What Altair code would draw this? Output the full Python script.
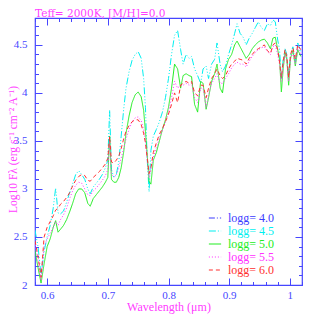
import altair as alt
import pandas as pd

# ---- data ----
wavelength = [0.580, 0.585, 0.590, 0.595, 0.600, 0.605, 0.610, 0.614, 0.618, 0.622,
              0.627, 0.632, 0.637, 0.642, 0.647, 0.652, 0.657, 0.662, 0.667, 0.671,
              0.676, 0.681, 0.686, 0.691, 0.696, 0.700, 0.703, 0.706, 0.710, 0.714,
              0.718, 0.722, 0.726, 0.730, 0.735, 0.740, 0.745, 0.750, 0.755, 0.759,
              0.762, 0.765, 0.768, 0.771, 0.775, 0.780, 0.785, 0.790, 0.795, 0.800,
              0.805, 0.810, 0.815, 0.820, 0.824, 0.829, 0.834, 0.838, 0.843, 0.848,
              0.853, 0.857, 0.862, 0.866, 0.871, 0.876, 0.880, 0.885, 0.889, 0.894,
              0.899, 0.904, 0.909, 0.913, 0.918, 0.923, 0.928, 0.933, 0.938, 0.943,
              0.948, 0.953, 0.958, 0.963, 0.968, 0.972, 0.976, 0.980, 0.983, 0.986,
              0.989, 0.992, 0.995, 0.998, 1.001, 1.005, 1.009, 1.013, 1.018]

flux_45 = [2.57, 2.40, 2.10, 2.35, 2.50, 2.62, 2.80, 3.01, 2.75, 2.74,
           2.77, 2.86, 2.96, 3.05, 3.15, 3.19, 3.15, 3.10, 3.00, 2.95,
           3.02, 3.06, 3.10, 3.15, 3.22, 3.30, 3.82, 3.20, 3.12, 3.15,
           3.28, 3.55, 3.82, 4.05, 4.22, 4.34, 4.40, 4.43, 4.36, 4.15,
           3.85, 3.30, 2.97, 3.40, 3.55, 3.62, 3.70, 3.80, 3.95, 4.15,
           4.40, 4.60, 4.65, 4.45, 4.30, 4.40, 4.36, 4.38, 4.25, 4.18,
           4.10, 4.25, 4.28, 4.15, 4.30, 4.35, 4.52, 4.30, 4.22, 4.28,
           4.40, 4.50, 4.62, 4.72, 4.62, 4.58, 4.50, 4.57, 4.62, 4.68,
           4.74, 4.68, 4.65, 4.72, 4.70, 4.76, 4.74, 4.55, 4.45, 4.15,
           4.35, 4.46, 4.40, 4.18, 4.40, 4.48, 4.32, 4.52, 4.42]

# logg 4.0: listed in the legend, but no visible curve in the reference
flux_40 = []

flux_50 = [2.36, 2.18, 2.02, 2.22, 2.40, 2.48, 2.60, 2.67, 2.55, 2.58,
           2.62, 2.68, 2.76, 2.85, 2.95, 3.00, 3.00, 2.96, 2.85, 2.82,
           2.90, 2.94, 2.98, 3.02, 3.07, 3.12, 3.55, 3.10, 3.07, 3.07,
           3.12, 3.22, 3.38, 3.58, 3.76, 3.90, 3.98, 4.01, 3.96, 3.82,
           3.60, 3.35, 3.08, 3.05, 3.30, 3.38, 3.50, 3.62, 3.72, 3.85,
           4.05, 4.30, 4.25, 4.05, 4.18, 4.20, 4.18, 4.17, 3.88, 3.80,
           4.12, 4.10, 3.83, 3.95, 4.12, 4.20, 4.30, 4.05, 4.00, 4.25,
           4.35, 4.40, 4.50, 4.54, 4.48, 4.42, 4.36, 4.40, 4.46, 4.50,
           4.53, 4.55, 4.56, 4.52, 4.46, 4.57, 4.58, 4.45, 4.35, 4.01,
           4.25, 4.42, 4.35, 4.08, 4.36, 4.44, 4.28, 4.45, 4.38]

flux_55 = [2.45, 2.25, 2.05, 2.40, 2.48, 2.54, 2.60, 2.66, 2.62, 2.68,
           2.73, 2.80, 2.90, 2.98, 3.04, 3.07, 3.06, 3.00, 2.94, 2.93,
           2.98, 3.01, 3.05, 3.09, 3.14, 3.20, 3.50, 3.15, 3.12, 3.15,
           3.22, 3.32, 3.42, 3.52, 3.62, 3.70, 3.74, 3.75, 3.71, 3.62,
           3.50, 3.30, 3.12, 3.20, 3.33, 3.43, 3.53, 3.61, 3.70, 3.80,
           3.95, 4.12, 4.05, 4.08, 4.08, 4.10, 4.08, 4.10, 3.95, 3.90,
           4.05, 4.05, 3.85, 3.98, 4.10, 4.15, 4.20, 4.10, 4.10, 4.15,
           4.20, 4.26, 4.30, 4.32, 4.30, 4.30, 4.27, 4.33, 4.38, 4.42,
           4.45, 4.47, 4.48, 4.43, 4.40, 4.48, 4.50, 4.40, 4.30, 4.12,
           4.28, 4.40, 4.33, 4.12, 4.35, 4.42, 4.30, 4.48, 4.40]

flux_60 = [2.46, 2.30, 2.08, 2.50, 2.60, 2.66, 2.72, 2.78, 2.80, 2.84,
           2.87, 2.91, 2.96, 3.03, 3.09, 3.13, 3.15, 3.14, 3.09, 3.08,
           3.12, 3.15, 3.18, 3.22, 3.26, 3.32, 3.55, 3.28, 3.27, 3.30,
           3.34, 3.42, 3.52, 3.60, 3.66, 3.70, 3.72, 3.72, 3.67, 3.58,
           3.48, 3.32, 3.16, 3.22, 3.38, 3.48, 3.57, 3.63, 3.70, 3.78,
           3.88, 4.00, 3.90, 4.08, 4.10, 4.12, 4.10, 4.12, 4.00, 3.97,
           4.08, 4.08, 3.95, 4.05, 4.15, 4.20, 4.25, 4.18, 4.15, 4.18,
           4.25, 4.30, 4.33, 4.36, 4.35, 4.34, 4.30, 4.36, 4.40, 4.44,
           4.46, 4.48, 4.50, 4.44, 4.41, 4.50, 4.52, 4.45, 4.32, 4.16,
           4.33, 4.45, 4.38, 4.16, 4.40, 4.47, 4.35, 4.50, 4.45]

series_names = ["logg= 4.0", "logg= 4.5", "logg= 5.0", "logg= 5.5", "logg= 6.0"]
series_flux = [flux_40, flux_45, flux_50, flux_55, flux_60]
series_colors = ["#3c3cff", "#00f0f0", "#22ee22", "#ff30ff", "#ff3030"]
series_dash = [[6, 2, 1, 2], [7, 2, 1, 2, 1, 2, 1, 2], [1, 0], [1, 2], [4, 3]]

x_major = [0.6, 0.7, 0.8, 0.9, 1.0]
x_minor = [round(0.58 + 0.02 * i, 2) for i in range(23)]
y_major = [2.0, 2.5, 3.0, 3.5, 4.0, 4.5]
y_minor = [round(2.0 + 0.1 * i, 1) for i in range(28)]

rows = []
for name, flux in zip(series_names, series_flux):
    assert len(flux) in (0, len(wavelength))
    for k, (w, f) in enumerate(zip(wavelength, flux)):
        rows.append({"wl": w, "flux": f, "series": name, "k": k})
df = pd.DataFrame(rows)

AXIS_BLUE = "#4646ff"
MAGENTA = "#ff3cff"
FONT = "Liberation Serif"

xs = alt.Scale(domain=[0.58, 1.02], nice=False, zero=False)
ys = alt.Scale(domain=[2.0, 4.78], nice=False, zero=False)


def tick_axis(orient, values, size, labels=False, **kw):
    return alt.Axis(orient=orient, values=values, labels=labels, grid=False,
                    domain=False, tickColor=AXIS_BLUE, tickWidth=1,
                    tickSize=alt.ExprRef(expr=str(-size)), **kw)


legend = alt.Legend(
    orient="none", legendX=173, legendY=193, title=None,
    symbolType="stroke", symbolSize=150, symbolStrokeWidth=1.2,
    labelFont=FONT, labelFontSize=12, labelOffset=6,
    labelColor=alt.ExprRef(expr="scale('color', datum.value)"),
    rowPadding=0, padding=0,
)

lines = alt.Chart(df).mark_line(strokeWidth=1, clip=True).encode(
    x=alt.X("wl:Q", scale=xs,
            axis=tick_axis("bottom", x_major, 7, labels=True, format="~g",
                           labelPadding=11.5, labelColor=AXIS_BLUE, labelFont=FONT,
                           labelFontSize=11, title="Wavelength (μm)",
                           titleColor=MAGENTA, titleFont=FONT, titleFontSize=12,
                           titleFontWeight="normal", titleY=21.5, titleBaseline="middle")),
    y=alt.Y("flux:Q", scale=ys,
            axis=tick_axis("left", y_major, 7, labels=True, format="~g",
                           labelPadding=15, labelColor=AXIS_BLUE, labelFont=FONT,
                           labelFontSize=11,
                           title="Log10 Fλ (erg s⁻¹ cm⁻² A⁻¹)",
                           titleColor=MAGENTA, titleFont=FONT, titleFontSize=11.5,
                           titleFontWeight="normal", titleX=-19, titleY=131,
                           titleAngle=270, titleBaseline="alphabetic", titleAlign="center")),
    color=alt.Color("series:N", scale=alt.Scale(domain=series_names, range=series_colors),
                    legend=legend),
    strokeDash=alt.StrokeDash("series:N", scale=alt.Scale(domain=series_names, range=series_dash),
                              legend=legend),
    order=alt.Order("k:Q"),
)


def ghost(xaxis, yaxis):
    return alt.Chart(df).mark_point(opacity=0).encode(
        x=alt.X("wl:Q", scale=xs, axis=xaxis),
        y=alt.Y("flux:Q", scale=ys, axis=yaxis),
    )


minor_bl = ghost(tick_axis("bottom", x_minor, 3.5, title=None),
                 tick_axis("left", y_minor, 3.5, title=None))
major_tr = ghost(tick_axis("top", x_major, 7, title=None),
                 tick_axis("right", y_major, 7, title=None))
minor_tr = ghost(tick_axis("top", x_minor, 3.5, title=None),
                 tick_axis("right", y_minor, 3.5, title=None))

chart = alt.layer(lines, minor_bl, major_tr, minor_tr).resolve_axis(
    x="independent", y="independent"
).properties(
    width=267, height=267,
    title=alt.TitleParams("Teff= 2000K, [M/H]=0.0", anchor="start", frame="group",
                          color=MAGENTA, font="DejaVu Serif", fontSize=10.5, fontWeight="normal",
                          offset=3, baseline="alphabetic", dy=13),
    autosize=alt.AutoSizeParams(type="none"),
    padding={"left": 27, "top": 10, "right": 8, "bottom": 32},
).configure_view(stroke=AXIS_BLUE, strokeWidth=1.2)

chart.save("out.html", embed_options={"renderer": "svg", "actions": False})
